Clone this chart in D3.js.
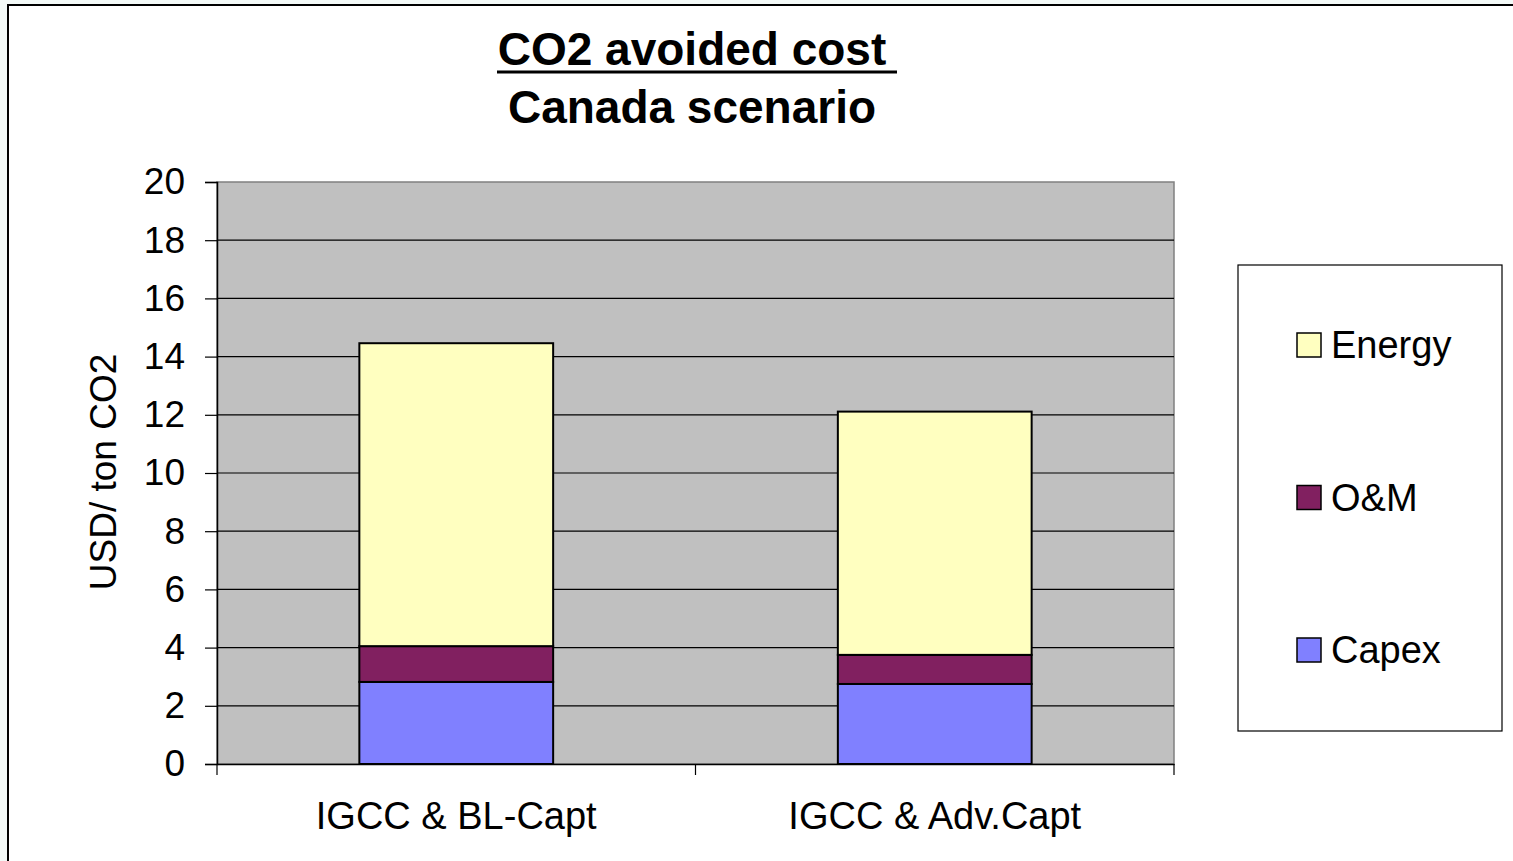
<!DOCTYPE html>
<html><head><meta charset="utf-8">
<script src="https://cdn.jsdelivr.net/npm/d3@7"></script>
<style>html,body{margin:0;padding:0;background:#f3f9f7;overflow:hidden}</style>
</head><body>
<script>
const categories = ["IGCC & BL-Capt", "IGCC & Adv.Capt"];
const seriesNames = ["Capex", "O&M", "Energy"];
const capex = [2.82, 2.75];
const om = [1.23, 1.0];
const energy = [10.41, 8.36];
const yTicks = [0, 2, 4, 6, 8, 10, 12, 14, 16, 18, 20];
const colors = ["#8080ff", "#812060", "#ffffc0"];

const W = 1513, H = 861;
const FONT = "'Liberation Sans', Arial, sans-serif";
const svg = d3.select("body").append("svg").attr("width", W).attr("height", H)
  .style("display","block").style("font-family", FONT);

svg.append("rect").attr("x", 8).attr("y", 5).attr("width", W).attr("height", H)
  .attr("fill", "#fff").attr("stroke", "#000").attr("stroke-width", 2);

const x0 = 217, x1 = 1174, y0 = 764, y1 = 182;
const x = d3.scaleBand().domain(categories).range([x0, x1]).padding(0);
const y = d3.scaleLinear().domain([0, 20]).range([y0, y1]);

svg.append("rect").attr("x", x0).attr("y", y1).attr("width", x1 - x0).attr("height", y0 - y1)
  .attr("fill", "#c0c0c0").attr("stroke", "#808080").attr("stroke-width", 1.5);

// gridlines
svg.append("g").selectAll("line").data(yTicks.filter(d => d > 0 && d < 20)).join("line")
  .attr("x1", x0).attr("x2", x1).attr("y1", d => y(d)).attr("y2", d => y(d))
  .attr("stroke", "#000").attr("stroke-width", 1.2);

// stacked bars
const rows = categories.map((c, i) => ({cat: c, Capex: capex[i], "O&M": om[i], Energy: energy[i]}));
const stack = d3.stack().keys(seriesNames)(rows);
const bw = x.bandwidth() * 0.405;
svg.append("g").selectAll("g").data(stack).join("g")
  .attr("fill", (d, i) => colors[i])
  .selectAll("rect").data(d => d).join("rect")
  .attr("x", d => x(d.data.cat) + (x.bandwidth() - bw) / 2)
  .attr("width", bw)
  .attr("y", d => y(d[1]))
  .attr("height", d => y(d[0]) - y(d[1]))
  .attr("stroke", "#000").attr("stroke-width", 2);

// y axis
const yAxis = svg.append("g").attr("transform", `translate(${x0},0)`)
  .call(d3.axisLeft(y).tickValues(yTicks).tickSize(12).tickPadding(20).tickFormat(d3.format("d")));
yAxis.select(".domain").attr("stroke", "#000").attr("stroke-width", 1.5);
yAxis.selectAll(".tick line").attr("stroke", "#000").attr("stroke-width", 1.2);
yAxis.selectAll("text").attr("font-size", 37).attr("fill", "#000").attr("font-family", FONT);

// x axis
const xAxis = svg.append("g").attr("transform", `translate(0,${y0})`)
  .call(d3.axisBottom(x).tickSize(0).tickPadding(38));
xAxis.select(".domain").attr("stroke", "#000").attr("stroke-width", 1.5);
xAxis.selectAll("text").attr("font-size", 38).attr("fill", "#000").attr("font-family", FONT);
const bounds = [x0, ...categories.map(c => x(c) + x.bandwidth())];
svg.append("g").selectAll("line").data(bounds).join("line")
  .attr("x1", d => d).attr("x2", d => d).attr("y1", y0).attr("y2", y0 + 11)
  .attr("stroke", "#000").attr("stroke-width", 1.2);

// y title
svg.append("text").attr("transform", "translate(116,472) rotate(-90)")
  .attr("text-anchor", "middle").attr("font-size", 37).text("USD/ ton CO2");

// title
svg.append("text").attr("x", 692).attr("y", 65).attr("text-anchor", "middle")
  .attr("font-size", 46).attr("font-weight", "bold").text("CO2 avoided cost");
svg.append("line").attr("x1", 497).attr("x2", 897).attr("y1", 72).attr("y2", 72)
  .attr("stroke", "#000").attr("stroke-width", 3);
svg.append("text").attr("x", 692).attr("y", 123).attr("text-anchor", "middle")
  .attr("font-size", 46).attr("font-weight", "bold").text("Canada scenario");

// legend
svg.append("rect").attr("x", 1238).attr("y", 265).attr("width", 264).attr("height", 466)
  .attr("fill", "#fff").attr("stroke", "#000").attr("stroke-width", 1.2);
const legendOrder = ["Energy", "O&M", "Capex"];
const ly = d3.scalePoint().domain(legendOrder).range([345, 650]);
const lg = svg.append("g").selectAll("g").data(legendOrder).join("g")
  .attr("transform", d => `translate(1297,${ly(d)})`);
lg.append("rect").attr("x", 0).attr("y", -12).attr("width", 24).attr("height", 24)
  .attr("fill", d => colors[seriesNames.indexOf(d)]).attr("stroke", "#000").attr("stroke-width", 1.5);
lg.append("text").attr("x", 34).attr("y", 13).attr("font-size", 38).text(d => d);
</script>
</body></html>
